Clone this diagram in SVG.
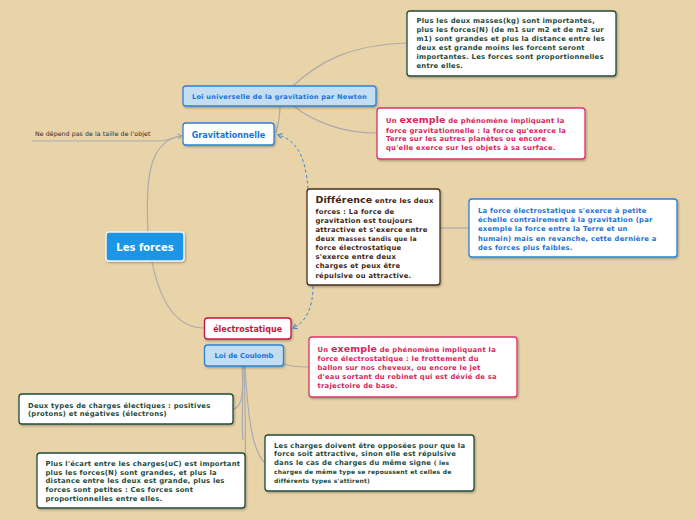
<svg xmlns="http://www.w3.org/2000/svg" width="696" height="520" viewBox="0 0 696 520">
<defs>
<filter id="sh" x="-10%" y="-10%" width="130%" height="140%">
<feDropShadow dx="1" dy="1.2" stdDeviation="0.8" flood-color="#000" flood-opacity="0.3"/>
</filter>
<marker id="ag" markerWidth="8" markerHeight="8" refX="5" refY="3" orient="auto" markerUnits="userSpaceOnUse">
<path d="M1,0.5 L5,3 L1,5.5" fill="none" stroke="#9a9a9a" stroke-width="1"/>
</marker>
<marker id="ab" markerWidth="8" markerHeight="8" refX="5" refY="3" orient="auto" markerUnits="userSpaceOnUse">
<path d="M1,0.5 L5,3 L1,5.5" fill="none" stroke="#3d86d6" stroke-width="1.1"/>
</marker>
<style>
text{font-family:"DejaVu Sans","Verdana",sans-serif;font-weight:bold;}
.n{font-size:6.8px;letter-spacing:0.25px;}
.sm{font-size:6px;letter-spacing:0.2px;}
.big{font-size:9.5px;letter-spacing:0.1px;}
.green rect{fill:#fff;stroke:#1f4d3d;stroke-width:1.3;}
.green text{fill:#1d4a3b;}
.pink rect{fill:#fff;stroke:#e0336a;stroke-width:1.3;}
.pink text{fill:#d8245c;}
.blue rect{fill:#fff;stroke:#2b82d9;stroke-width:1.3;}
.blue text{fill:#1c72d4;}
.lblue rect{fill:#c3ddf2;stroke:#2b82d9;stroke-width:1.3;}
.lblue text{fill:#1c72d4;}
.brown rect{fill:#fff;stroke:#4b2f1f;stroke-width:1.3;}
.brown text{fill:#3e2414;}
.red rect{fill:#fff;stroke:#c8173a;stroke-width:1.3;}
.red text{fill:#c8173a;}
.c{fill:none;stroke:#ababab;stroke-width:1.2;}
.d{fill:none;stroke:#3d86d6;stroke-width:1;stroke-dasharray:3,2.5;}
.mid{text-anchor:middle;}
</style>
</defs>
<rect x="0" y="0" width="696" height="520" fill="#e8d4a8"/>

<g id="connectors">
<path class="c" d="M148,232 C145,175 150,140 182,136" marker-end="url(#ag)"/>
<path class="c" d="M32,141 L160,141 C170,141 174,136 182,136"/>
<path class="c" d="M276,133 C279,122 280,112 280,106"/>
<path class="c" d="M292,87 C320,60 352,45 407,43"/>
<path class="c" d="M292,105 C318,125 345,133 377,133"/>
<path class="c" d="M440,228 L469,228"/>
<path class="c" d="M152,262 C160,300 175,328 204,328"/>
<path class="c" d="M283,364 C292,367 300,367 309,367"/>
<path class="c" d="M243,366 C243,390 243,408 233,409"/>
<path class="c" d="M244,366 C245,400 246,450 245,482"/>
<path class="c" d="M245,366 C247,400 250,450 265,463"/>
<path class="c" d="M242,366 C244,395 241,420 243,440"/>
<path class="d" d="M308,189 C306,160 298,140 278,135" marker-end="url(#ab)"/>
<path class="d" d="M313,286 C313,308 306,322 293,328" marker-end="url(#ab)"/>
</g>

<g id="note-taille">
<text x="35" y="135.5" style="font-weight:normal;font-size:6.2px;letter-spacing:0.1px;fill:#2a2a2a">Ne dépend pas de la taille de l'objet</text>
</g>

<g id="node-masses" class="green">
<rect x="407" y="11" width="209" height="65" rx="3" filter="url(#sh)"/>
<text class="n" x="416.5" y="23.4">Plus les deux masses(kg) sont importantes,</text>
<text class="n" x="416.5" y="32.4">plus les forces(N) (de m1 sur m2 et de m2 sur</text>
<text class="n" x="416.5" y="41.1">m1) sont grandes et plus la distance entre les</text>
<text class="n" x="416.5" y="50.1">deux est grande moins les forcent seront</text>
<text class="n" x="416.5" y="59.1">importantes. Les forces sont proportionnelles</text>
<text class="n" x="416.5" y="68">entre elles.</text>
</g>

<g id="node-newton" class="lblue">
<rect x="183" y="86" width="193" height="20" rx="3" filter="url(#sh)"/>
<text class="mid" x="279.5" y="98.8" style="font-size:6.6px;letter-spacing:0.25px">Loi universelle de la gravitation par Newton</text>
</g>

<g id="node-gravitationnelle" class="blue">
<rect x="183" y="123" width="91" height="22" rx="3" filter="url(#sh)"/>
<text class="mid" x="228.5" y="138" style="font-size:8.1px">Gravitationnelle</text>
</g>

<g id="node-exemple-grav" class="pink">
<rect x="377" y="108" width="208" height="51" rx="3" filter="url(#sh)"/>
<text class="n" x="386" y="122.5">Un <tspan class="big">exemple</tspan> de phénomène impliquant la</text>
<text class="n" x="386" y="132.5">force gravitationnelle : la force qu'exerce la</text>
<text class="n" x="386" y="141.3">Terre sur les autres planètes ou encore</text>
<text class="n" x="386" y="150">qu'elle exerce sur les objets à sa surface.</text>
</g>

<g id="node-difference" class="brown">
<rect x="307" y="189" width="133" height="96" rx="3" filter="url(#sh)"/>
<text class="n" x="315.5" y="203"><tspan class="big">Différence</tspan> entre les deux</text>
<text class="n" x="315.5" y="213.5">forces : La force de</text>
<text class="n" x="315.5" y="222.5">gravitation est toujours</text>
<text class="n" x="315.5" y="231.5">attractive et s'exerce entre</text>
<text class="n" x="315.5" y="240.7">deux m<tspan style="font-size:6.2px">asses tandis que la</tspan></text>
<text class="n" x="315.5" y="250">force électrostatique</text>
<text class="n" x="315.5" y="259">s'exerce entre deux</text>
<text class="n" x="315.5" y="268">charges et peux être</text>
<text class="n" x="315.5" y="277.5">répulsive ou attractive.</text>
</g>

<g id="node-echelle" class="blue">
<rect x="469" y="199" width="208" height="58" rx="3" filter="url(#sh)"/>
<text class="n" x="478" y="212.5">La force électrostatique s'exerce à petite</text>
<text class="n" x="478" y="221.5">échelle contrairement à la gravitation (par</text>
<text class="n" x="478" y="231">exemple la force entre la Terre et un</text>
<text class="n" x="478" y="240.5">humain) mais en revanche, cette dernière a</text>
<text class="n" x="478" y="250">des forces plus faibles.</text>
</g>

<g id="node-les-forces">
<rect x="106" y="232" width="78" height="29" rx="3" fill="#1b95e5" stroke="#f4f4f4" stroke-width="1.5" filter="url(#sh)"/>
<text class="mid" x="145" y="250.8" style="font-size:10px;fill:#fff">Les forces</text>
</g>

<g id="node-electrostatique" class="red">
<rect x="204.5" y="318" width="86.5" height="21" rx="3" filter="url(#sh)"/>
<text class="mid" x="247.7" y="331.6" style="font-size:8px">électrostatique</text>
</g>

<g id="node-coulomb" class="lblue">
<rect x="204.5" y="345" width="79" height="21" rx="3" filter="url(#sh)"/>
<text class="mid" x="244" y="358.4" style="font-size:6.8px">Loi de Coulomb</text>
</g>

<g id="node-exemple-elec" class="pink">
<rect x="309" y="337" width="208" height="60" rx="3" filter="url(#sh)"/>
<text class="n" x="317.5" y="351.5">Un <tspan class="big">exemple</tspan> de phénomène impliquant la</text>
<text class="n" x="317.5" y="360.5">force électrostatique : le frottement du</text>
<text class="n" x="317.5" y="369.5">ballon sur nos cheveux, ou encore le jet</text>
<text class="n" x="317.5" y="379">d'eau sortant du robinet qui est dévié de sa</text>
<text class="n" x="317.5" y="388">trajectoire de base.</text>
</g>

<g id="node-types" class="green">
<rect x="19" y="394" width="214" height="30" rx="3" filter="url(#sh)"/>
<text class="n" x="28" y="408">Deux types de charges électiques : positives</text>
<text class="n" x="28" y="416.3">(protons) et négatives (électrons)</text>
</g>

<g id="node-ecart" class="green">
<rect x="37" y="453" width="208" height="55" rx="3" filter="url(#sh)"/>
<text class="n" x="45.5" y="466.3">Plus l'écart entre les charges(uC) est important</text>
<text class="n" x="45.5" y="475">plus les forces(N) sont grandes, et plus la</text>
<text class="n" x="45.5" y="483.3">distance entre les deux est grande, plus les</text>
<text class="n" x="45.5" y="492">forces sont petites : Ces forces sont</text>
<text class="n" x="45.5" y="500.6">proportionnelles entre elles.</text>
</g>

<g id="node-charges" class="green">
<rect x="265" y="435" width="209" height="56" rx="3" filter="url(#sh)"/>
<text class="n" x="274" y="447.5">Les charges doivent être opposées pour que la</text>
<text class="n" x="274" y="456">force soit attractive, sinon elle est répulsive</text>
<text class="n" x="274" y="464.5">dans le cas de charges du même signe <tspan class="sm">( les</tspan></text>
<text class="sm" x="274" y="474">charges de même type se repoussent et celles de</text>
<text class="sm" x="274" y="482.5">différents types s'attirent)</text>
</g>
</svg>
